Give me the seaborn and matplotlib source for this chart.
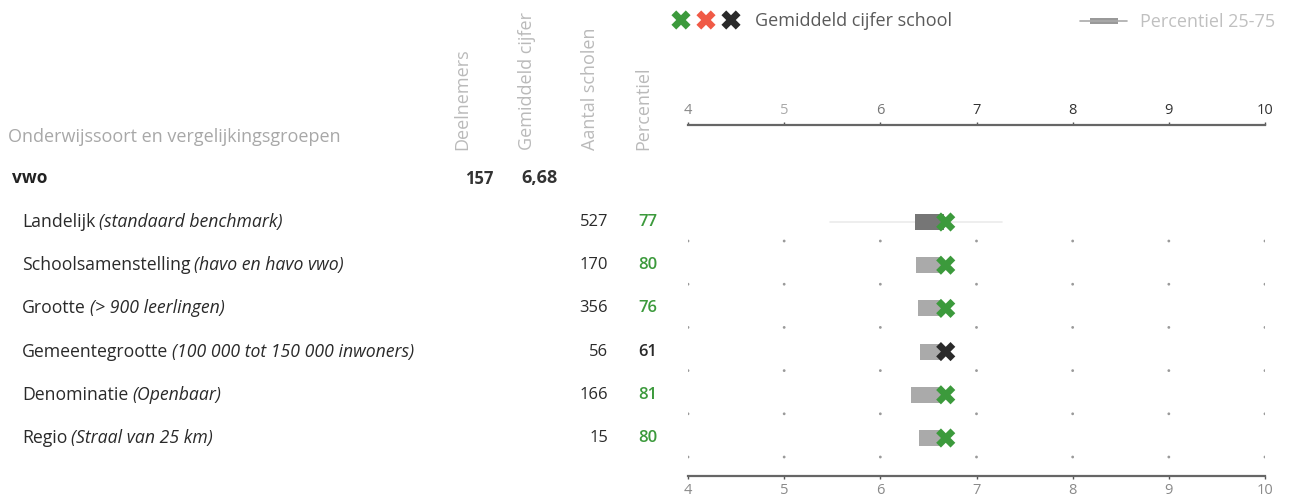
import matplotlib
matplotlib.use("Agg")
import matplotlib.pyplot as plt
import seaborn as sns
import numpy as np
import pandas as pd

# ---------------- data ----------------
groups = ["Landelijk", "Schoolsamenstelling", "Grootte", "Gemeentegrootte",
          "Denominatie", "Regio"]
group_notes = ["(standaard benchmark)", "(havo en havo vwo)", "(> 900 leerlingen)",
               "(100 000 tot 150 000 inwoners)", "(Openbaar)", "(Straal van 25 km)"]
aantal_scholen = [527, 170, 356, 56, 166, 15]
percentiel = [77, 80, 76, 61, 81, 80]
q25 = [6.36, 6.37, 6.39, 6.41, 6.32, 6.40]
q75 = [6.66, 6.64, 6.64, 6.64, 6.64, 6.64]
whisk_lo = [5.48, np.nan, np.nan, np.nan, np.nan, np.nan]
whisk_hi = [7.26, np.nan, np.nan, np.nan, np.nan, np.nan]
school_score = 6.68
deelnemers = 157
gem_cijfer = "6,68"
ticks = [4, 5, 6, 7, 8, 9, 10]
col_headers = ["Deelnemers", "Gemiddeld cijfer", "Aantal scholen", "Percentiel"]

# ---------------- style ----------------
sns.set_theme(style="white")
plt.rcParams["font.family"] = ["Open Sans", "DejaVu Sans"]

W, H = 1289, 497
fig = plt.figure(figsize=(W / 100, H / 100), dpi=100)

def fx(px):
    return px / W

def fy(py):
    return 1 - py / H

# main chart axes: x 688..1265, y 125..476
ax = fig.add_axes([fx(688), fy(476), fx(1265) - fx(688), (476 - 125) / H])
row0, step = 222, 43.2
ax.set_xlim(4, 10)
ax.set_ylim((476 - row0) / step, -(row0 - 125) / step)

GREEN = "#3c9a3c"
BLACK = "#2a2a2a"
RED = "#f05a46"

df = pd.DataFrame({"group": groups, "q25": q25, "q75": q75,
                   "lo": whisk_lo, "hi": whisk_hi, "pct": percentiel})
df["row"] = np.arange(len(groups))
df["score"] = school_score
df["cat"] = np.where(df["pct"] >= 75, "boven", "gemiddeld")

# whiskers
for _, r in df.iterrows():
    if not np.isnan(r["lo"]):
        ax.plot([r["lo"], r["hi"]], [r["row"], r["row"]], color="#ebebeb", lw=1.2, zorder=1)

# boxes (percentiel 25-75)
box_colors = ["#767676"] + ["#aaaaaa"] * (len(groups) - 1)
ax.barh(df["row"], df["q75"] - df["q25"], left=df["q25"], height=0.37,
        color=box_colors, edgecolor="none", zorder=2)

# small grid dots under each row
dots = pd.DataFrame([(t, r + 0.44) for r in df["row"] for t in ticks], columns=["x", "y"])
sns.scatterplot(data=dots, x="x", y="y", ax=ax, color="#9a9a9a", s=4,
                edgecolor="none", legend=False, zorder=1)

# school score crosses
sns.scatterplot(data=df, x="score", y="row", hue="cat",
                palette={"boven": GREEN, "gemiddeld": BLACK}, marker="X",
                s=190, edgecolor="none", legend=False, ax=ax, zorder=3)

ax.set_xlabel("")
ax.set_ylabel("")
ax.set_yticks([])
ax.set_xticks(ticks)
ax.tick_params(axis="x", top=True, bottom=True, labeltop=True, labelbottom=True,
               length=2, width=1, color="#555555", pad=3, labelsize=10.5)
for s in ["left", "right"]:
    ax.spines[s].set_visible(False)
for s in ["top", "bottom"]:
    ax.spines[s].set_color("#666666")
    ax.spines[s].set_linewidth(1.6)
top_cols = ["#888888", "#aaaaaa", "#777777", "#333333", "#333333", "#333333", "#333333"]
for i, t in enumerate(ax.xaxis.get_major_ticks()):
    t.label2.set_color(top_cols[i])
    t.label1.set_color("#8a8a8a")
ax.set_facecolor("none")

# ---------------- legend ----------------
lax = fig.add_axes([0, 0, 1, 1], facecolor="none")
lax.set_xlim(0, W)
lax.set_ylim(H, 0)
lax.axis("off")
leg = pd.DataFrame({"x": [681, 706, 731], "y": [20, 20, 20], "c": ["g", "r", "k"]})
sns.scatterplot(data=leg, x="x", y="y", hue="c", palette={"g": GREEN, "r": RED, "k": BLACK},
                marker="X", s=190, edgecolor="none", legend=False, ax=lax)
lax.set_xlabel("")
lax.set_ylabel("")
lax.text(755, 21, "Gemiddeld cijfer school", fontsize=13, color="#5a5a5a",
         va="center", ha="left")
lax.plot([1080, 1127], [21, 21], color="#aaaaaa", lw=1.2)
lax.add_patch(plt.Rectangle((1090, 18), 28, 6, color="#999999", lw=0))
lax.text(1140, 22, "Percentiel 25-75", fontsize=13, color="#c0c0c0",
         va="center", ha="left")

# ---------------- table ----------------
lax.text(8, 137, "Onderwijssoort en vergelijkingsgroepen", fontsize=13, color="#a8a8a8",
         va="center", ha="left")
for xh, lab in zip([462, 527, 590, 643], col_headers):
    lax.text(xh, 150, lab, rotation=90, fontsize=13, color="#bababa",
             ha="center", va="bottom")

lax.text(12, 178, "vwo", fontsize=12.5, fontweight="bold", color="#222222",
         va="center", ha="left")
lax.text(493, 179, str(deelnemers), fontsize=12, fontweight="bold", color="#333333",
         va="center", ha="right")
lax.text(558, 178, gem_cijfer, fontsize=13, fontweight="bold", color="#333333",
         va="center", ha="right")

renderer = fig.canvas.get_renderer()
for i, (g, n) in enumerate(zip(groups, group_notes)):
    y = row0 + step * i
    t = lax.text(22, y, g, fontsize=12.7, color="#2a2a2a", va="center", ha="left")
    bb = t.get_window_extent(renderer=renderer)
    x_end = bb.x1 * W / fig.bbox.width
    lax.text(x_end + 4, y, n, fontsize=12.7, color="#2a2a2a", va="center", ha="left",
             style="italic")
    lax.text(608, y, str(aantal_scholen[i]), fontsize=12, color="#2a2a2a",
             va="center", ha="right")
    pc_col = GREEN if percentiel[i] >= 75 else BLACK
    lax.text(638, y, str(percentiel[i]), fontsize=12, color=pc_col, va="center",
             ha="left", fontweight="semibold")

fig.savefig("out.png", dpi=100)
